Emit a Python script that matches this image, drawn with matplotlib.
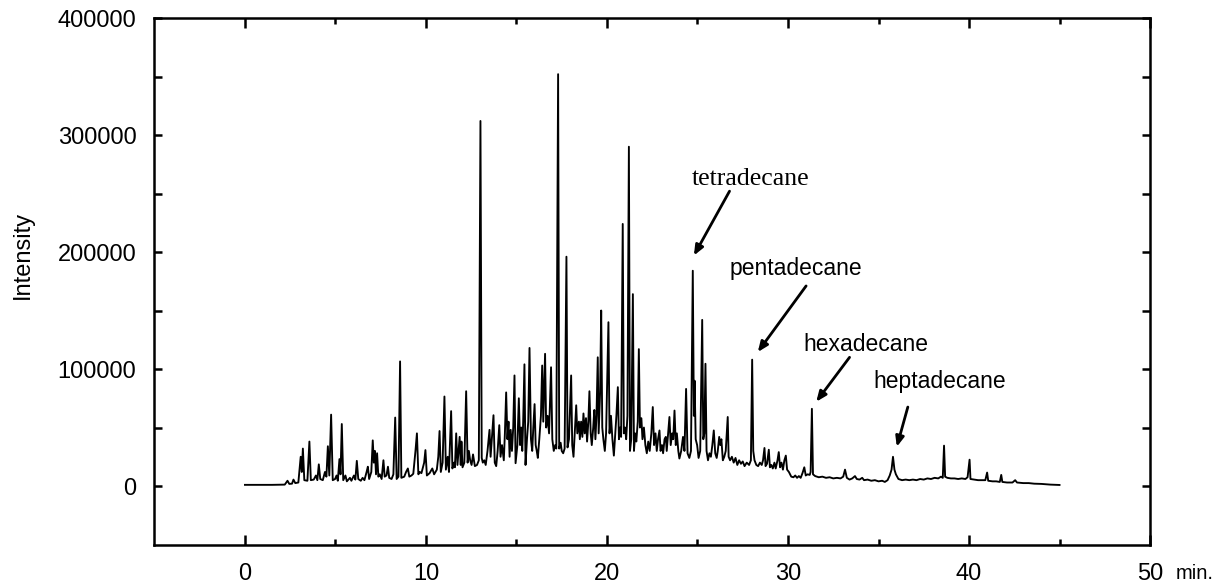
import matplotlib
matplotlib.use("Agg")
import matplotlib.pyplot as plt
from matplotlib.ticker import FixedLocator, FuncFormatter

# ---------------- data: retention time (min), intensity (counts) ----------------
trace_0_10 = [
    (0.00, 1000), (1.50, 1000), (2.20, 1200), (2.35, 4500), (2.45, 1800), (2.60, 2000),
    (2.68, 5500), (2.78, 2500), (2.95, 3000), (3.08, 25000), (3.14, 12000), (3.20, 32000),
    (3.28, 5000), (3.45, 4500), (3.56, 38000), (3.64, 5000), (3.80, 5500), (3.92, 9000),
    (4.00, 5000), (4.08, 18500), (4.16, 6000), (4.30, 5000), (4.42, 12000), (4.50, 8000),
    (4.58, 34000), (4.66, 9000), (4.76, 61000), (4.85, 5000), (4.98, 6000), (5.06, 9000),
    (5.13, 4500), (5.22, 23000), (5.28, 10000), (5.35, 53000), (5.43, 5000), (5.55, 9000),
    (5.63, 4000), (5.80, 7000), (5.88, 4500), (6.02, 9000), (6.10, 5500), (6.18, 21500),
    (6.26, 6000), (6.40, 4500), (6.50, 7000), (6.60, 5000), (6.72, 12000), (6.79, 16500),
    (6.86, 6000), (6.98, 12000), (7.06, 39000), (7.12, 20000), (7.18, 30000), (7.24, 10000),
    (7.30, 28000), (7.37, 8000), (7.45, 10000), (7.55, 6000), (7.65, 22000), (7.72, 8000),
    (7.82, 9000), (7.90, 16500), (7.97, 7000), (8.10, 6000), (8.20, 10000), (8.30, 58500),
    (8.38, 6000), (8.48, 8000), (8.57, 106500), (8.64, 7000), (8.80, 8000), (8.90, 12000),
    (9.00, 15000), (9.08, 8000), (9.20, 9000), (9.30, 10500), (9.42, 30000), (9.50, 45000),
    (9.58, 10000), (9.66, 12000), (9.75, 11000), (9.90, 20000), (9.97, 30700), (10.05, 9000),
]

trace_10_20 = [
    (10.20, 11000), (10.35, 15000), (10.45, 10000), (10.60, 14000), (10.68, 25000),
    (10.75, 47000), (10.82, 12000), (10.92, 20000), (11.02, 76500), (11.10, 14000),
    (11.20, 25000), (11.27, 12000), (11.39, 64000), (11.46, 15000), (11.55, 20000),
    (11.60, 16000), (11.67, 45000), (11.74, 18000), (11.80, 30000), (11.86, 42000),
    (11.92, 18000), (11.96, 38000), (12.02, 16000), (12.12, 20000), (12.22, 81000),
    (12.30, 20000), (12.37, 30000), (12.44, 22000), (12.52, 18000), (12.60, 27000),
    (12.70, 17000), (12.82, 18000), (12.92, 22000), (13.01, 312000), (13.08, 24000),
    (13.14, 20000), (13.22, 22000), (13.30, 18000), (13.40, 30000), (13.51, 48000),
    (13.57, 25000), (13.64, 40000), (13.73, 60500), (13.80, 20000), (13.88, 17000),
    (13.96, 30000), (14.05, 52000), (14.12, 25000), (14.20, 35000), (14.30, 22000),
    (14.36, 45000), (14.43, 80000), (14.50, 40000), (14.56, 55000), (14.62, 25000),
    (14.68, 48000), (14.75, 30000), (14.82, 50000), (14.89, 94500), (14.95, 19500),
    (15.05, 35000), (15.13, 75000), (15.20, 35000), (15.26, 50000), (15.32, 30000),
    (15.37, 55000), (15.44, 104000), (15.50, 18000), (15.58, 40000), (15.65, 55000),
    (15.72, 118000), (15.80, 40000), (15.87, 30000), (15.93, 50000), (16.00, 70000),
    (16.06, 35000), (16.12, 30000), (16.18, 24000), (16.26, 40000), (16.35, 60000),
    (16.42, 103000), (16.48, 55000), (16.58, 113000), (16.64, 50000), (16.72, 60000),
    (16.80, 45000), (16.91, 101500), (16.98, 40000), (17.06, 30000), (17.14, 35000),
    (17.20, 32000), (17.30, 352000), (17.36, 32000), (17.44, 37000), (17.50, 30000),
    (17.58, 28000), (17.66, 32000), (17.76, 196000), (17.82, 33000), (17.90, 40000),
    (18.02, 94500), (18.08, 35000), (18.15, 25000), (18.22, 45000), (18.30, 69000),
    (18.36, 45000), (18.45, 55000), (18.50, 40000), (18.57, 55000), (18.64, 42000),
    (18.70, 62000), (18.77, 45000), (18.84, 58000), (18.90, 38000), (18.97, 55000),
    (19.03, 81000), (19.10, 45000), (19.16, 35000), (19.24, 50000), (19.30, 65000),
    (19.36, 40000), (19.42, 60000), (19.49, 110000), (19.54, 45000), (19.62, 80000),
    (19.68, 150000), (19.74, 50000), (19.80, 40000), (19.88, 30000), (19.95, 45000),
    (20.08, 140000), (20.14, 45000), (20.22, 60000), (20.30, 40000),
]

trace_20_30 = [
    (20.38, 26000), (20.46, 45000), (20.52, 60000), (20.60, 84500), (20.66, 40000),
    (20.72, 50000), (20.78, 42000), (20.87, 224000), (20.93, 45000), (21.00, 50000),
    (21.06, 40000), (21.13, 60000), (21.21, 290000), (21.27, 30000), (21.34, 40000),
    (21.43, 164000), (21.49, 30000), (21.56, 45000), (21.62, 38000), (21.70, 55000),
    (21.76, 117000), (21.82, 50000), (21.90, 58000), (21.96, 40000), (22.04, 50000),
    (22.12, 35000), (22.20, 28000), (22.28, 38000), (22.36, 30000), (22.45, 45000),
    (22.53, 67500), (22.60, 35000), (22.68, 45000), (22.75, 30000), (22.82, 40000),
    (22.90, 47500), (22.96, 30000), (23.04, 35000), (23.10, 28000), (23.18, 40000),
    (23.25, 42000), (23.30, 30000), (23.38, 45000), (23.45, 59000), (23.52, 35000),
    (23.60, 45000), (23.66, 40000), (23.73, 64500), (23.80, 35000), (23.86, 45000),
    (23.94, 30000), (24.00, 23500), (24.10, 30000), (24.20, 42000), (24.28, 30000),
    (24.37, 83000), (24.45, 28000), (24.55, 24000), (24.64, 30000), (24.74, 184000),
    (24.80, 60000), (24.84, 90000), (24.90, 40000), (24.98, 35000), (25.06, 24000),
    (25.15, 30000), (25.26, 142000), (25.32, 40000), (25.38, 45000), (25.44, 104500),
    (25.50, 30000), (25.58, 22000), (25.66, 28000), (25.74, 25000), (25.82, 35000),
    (25.90, 47500), (25.98, 28000), (26.06, 24000), (26.12, 30000), (26.20, 42000),
    (26.26, 35000), (26.32, 40000), (26.40, 22000), (26.48, 25000), (26.56, 30000),
    (26.67, 59000), (26.72, 25000), (26.80, 22000), (26.90, 25000), (27.00, 20000),
    (27.10, 24000), (27.20, 18000), (27.30, 22000), (27.40, 19000), (27.50, 21000),
    (27.60, 17000), (27.72, 20000), (27.85, 18000), (27.95, 22000), (28.02, 108000),
    (28.08, 30000), (28.15, 22000), (28.25, 18000), (28.35, 17000), (28.45, 20000),
    (28.55, 18000), (28.62, 22000), (28.70, 32500), (28.76, 17000), (28.84, 19000),
    (28.94, 31000), (29.00, 16000), (29.08, 18000), (29.16, 15000), (29.25, 20000),
    (29.32, 15000), (29.42, 22000), (29.49, 29000), (29.56, 16000), (29.64, 20000),
    (29.72, 14000), (29.80, 22000), (29.88, 26000), (29.95, 14000), (30.05, 12000),
]

trace_30_45 = [
    (30.18, 8000), (30.30, 7500), (30.40, 9000), (30.50, 7000), (30.60, 8500), (30.70, 7000),
    (30.80, 11000), (30.90, 16000), (30.98, 9000), (31.08, 10000), (31.20, 9500),
    (31.25, 12000), (31.32, 66000), (31.38, 10000), (31.50, 8500), (31.70, 7500),
    (31.90, 8000), (32.10, 7000), (32.30, 7500), (32.50, 6500), (32.70, 7000), (32.90, 6500),
    (33.05, 8000), (33.15, 14000), (33.25, 7000), (33.40, 5500), (33.55, 6500), (33.70, 8500),
    (33.80, 6000), (33.95, 5500), (34.10, 7000), (34.20, 5000), (34.40, 5500), (34.60, 4500),
    (34.80, 5000), (35.00, 4000), (35.20, 4500), (35.35, 3500), (35.50, 5000), (35.62, 9000),
    (35.72, 14000), (35.80, 25000), (35.88, 14000), (35.96, 10000), (36.10, 6000),
    (36.30, 5000), (36.50, 5500), (36.70, 5000), (36.90, 5500), (37.10, 5000), (37.30, 6000),
    (37.50, 5500), (37.70, 6500), (37.90, 6000), (38.10, 7000), (38.30, 6500), (38.45, 8000),
    (38.55, 7000), (38.62, 34500), (38.68, 8000), (38.80, 7000), (39.00, 6500), (39.20, 6500),
    (39.40, 6000), (39.60, 6500), (39.80, 6000), (39.92, 7500), (40.03, 22500), (40.08, 6000),
    (40.30, 5500), (40.50, 5000), (40.70, 5000), (40.90, 5000), (41.00, 11500), (41.06, 4500),
    (41.30, 4000), (41.50, 4000), (41.70, 3500), (41.78, 9500), (41.84, 3500), (42.10, 3000),
    (42.40, 3000), (42.55, 5000), (42.65, 3000), (43.00, 2500), (43.30, 2500), (43.60, 2000),
    (44.00, 1800), (44.50, 1200), (45.00, 900),
]

label_names = ["tetradecane", "pentadecane", "hexadecane", "heptadecane"]
label_pos = [(27.92, 262000), (30.43, 185500), (34.32, 121000), (38.37, 89000)]
label_serif = [True, False, False, False]
arrow_tail = [(26.77, 252000), (31.00, 171000), (33.40, 110000), (36.62, 67500)]
arrow_head = [(24.80, 197000), (28.33, 114500), (31.56, 72000), (36.01, 33500)]

x_ticks_major = [0, 10, 20, 30, 40, 50]
x_ticks_minor = [5, 15, 25, 35, 45]
y_ticks_labeled = [0, 100000, 200000, 300000, 400000]
y_ticks_minor = [50000, 150000, 250000, 350000]

# ---------------- figure ----------------
plt.rcParams['font.family'] = ['Liberation Sans', 'DejaVu Sans']
fig = plt.figure(figsize=(12.18, 5.83), dpi=100)
ax = fig.add_axes([0.1268, 0.0660, 0.8174, 0.9031])

trace = trace_0_10 + trace_10_20 + trace_20_30 + trace_30_45
t = [p[0] for p in trace]
y = [p[1] for p in trace]
ax.plot(t, y, color='black', lw=1.35)

ax.set_xlim(-5, 50)
ax.set_ylim(-50000, 400000)

ax.xaxis.set_major_locator(FixedLocator(x_ticks_major))
ax.xaxis.set_minor_locator(FixedLocator(x_ticks_minor))
ax.yaxis.set_major_locator(FixedLocator(y_ticks_labeled))
ax.yaxis.set_minor_locator(FixedLocator(y_ticks_minor))
ax.yaxis.set_major_formatter(FuncFormatter(lambda v, p: f"{int(v)}"))

ax.tick_params(axis='x', which='major', direction='in', length=7.5, width=1.8,
               top=True, bottom=True, labelsize=17, pad=13)
ax.tick_params(axis='x', which='minor', direction='in', length=4, width=1.8,
               top=True, bottom=True)
ax.tick_params(axis='y', which='both', direction='in', length=6, width=1.8,
               left=True, right=True, labelsize=17, pad=13)
for s in ax.spines.values():
    s.set_linewidth(1.8)

fig.text(23 / 1218, 1 - 255 / 583, "Intensity", rotation=90, ha='center', va='center',
         fontsize=17)
fig.text(1176 / 1218, 1 - 579 / 583, "min.", ha='left', va='baseline', fontsize=14.5)

for name, pos, serif, tail, head in zip(label_names, label_pos, label_serif,
                                        arrow_tail, arrow_head):
    if serif:
        ax.text(pos[0], pos[1], name, ha='center', va='center', fontsize=18.5,
                family=['Liberation Serif', 'DejaVu Serif'])
    else:
        ax.text(pos[0], pos[1], name, ha='center', va='center', fontsize=16.5)
    ax.annotate('', xy=head, xytext=tail,
                arrowprops=dict(arrowstyle='-|>,head_length=0.6,head_width=0.25',
                                color='black', lw=2.0, shrinkA=0, shrinkB=0))

fig.savefig("out.png", dpi=100)
